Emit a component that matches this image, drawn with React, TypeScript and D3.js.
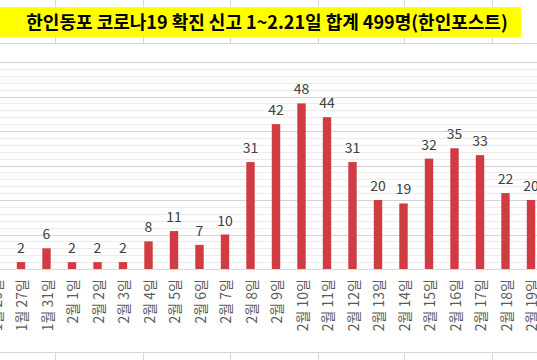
import React from "react";
import * as d3 from "d3";

const title = "한인동포 코로나19 확진 신고 1~2.21일 합계 499명(한인포스트)";
const categories = [
  "1월 20일", "1월 27일", "1월 31일", "2월 1일", "2월 2일", "2월 3일", "2월 4일",
  "2월 5일", "2월 6일", "2월 7일", "2월 8일", "2월 9일", "2월 10일", "2월 11일",
  "2월 12일", "2월 13일", "2월 14일", "2월 15일", "2월 16일", "2월 17일",
  "2월 18일", "2월 19일",
];
const values = [1, 2, 6, 2, 2, 2, 8, 11, 7, 10, 31, 42, 48, 44, 31, 20, 19, 32, 35, 33, 22, 20];
const minorTicks = d3.range(2, 61, 2).filter((v) => v % 10 !== 0);
const majorTicks = [10, 20, 30, 40, 50, 60];
const sheetCols = [55, 143, 230, 318, 404, 492];

const W = 537;
const H = 360;
const STEP = 25.5;
const X0 = -17.25;

export default function App() {
  const x = d3
    .scaleBand<string>()
    .domain(categories)
    .range([X0, X0 + STEP * categories.length])
    .paddingInner(0.67)
    .paddingOuter(0.335);
  const y = d3.scaleLinear().domain([0, 60]).range([269, 62]);
  const font = "'Noto Sans CJK KR', 'Noto Sans', sans-serif";
  const barColor = "#d13c42";

  return (
    <svg
      width={W}
      height={H}
      style={{ position: "absolute", left: 0, top: 0, background: "#fff" }}
    >
      {/* spreadsheet grid outside the chart */}
      {sheetCols.map((cx) => (
        <g key={"c" + cx}>
          <line x1={cx + 0.5} x2={cx + 0.5} y1={0} y2={43} stroke="#d6d6d6" />
          <line x1={cx + 0.5} x2={cx + 0.5} y1={352} y2={H} stroke="#d6d6d6" />
        </g>
      ))}
      <line x1={0} x2={W} y1={43.5} y2={43.5} stroke="#d6d6d6" />
      <line x1={0} x2={W} y1={352.5} y2={352.5} stroke="#d6d6d6" />

      {/* title bar */}
      <rect x={0} y={7} width={521} height={30} fill="#ffff00" />
      <text
        x={267}
        y={28.5}
        textAnchor="middle"
        fontFamily={font}
        fontWeight="bold"
        fontSize={18}
        fill="#000"
      >
        {title}
      </text>

      {/* gridlines */}
      {minorTicks.map((v) => (
        <line
          key={"m" + v}
          x1={0}
          x2={W}
          y1={Math.round(y(v)) + 0.5}
          y2={Math.round(y(v)) + 0.5}
          stroke="#ececec"
        />
      ))}
      {majorTicks.map((v) => (
        <line
          key={"M" + v}
          x1={0}
          x2={W}
          y1={Math.round(y(v)) + 0.5}
          y2={Math.round(y(v)) + 0.5}
          stroke="#d4d4d4"
        />
      ))}
      <line x1={0} x2={W} y1={y(0) + 0.5} y2={y(0) + 0.5} stroke="#d9d9d9" />

      {/* bars */}
      {categories.map((c, i) => (
        <rect
          key={"b" + c}
          x={x(c)}
          y={y(values[i])}
          width={x.bandwidth()}
          height={y(0) - y(values[i])}
          fill={barColor}
        />
      ))}

      {/* value labels */}
      {categories.map((c, i) => (
        <text
          key={"v" + c}
          x={(x(c) as number) + x.bandwidth() / 2}
          y={y(values[i]) - 9}
          textAnchor="middle"
          fontFamily={font}
          fontSize={14}
          fill="#404040"
        >
          {values[i]}
        </text>
      ))}

      {/* category labels */}
      {categories.map((c) => {
        const cx = (x(c) as number) + x.bandwidth() / 2;
        return (
          <text
            key={"l" + c}
            transform={`translate(${cx},279) rotate(-90)`}
            textAnchor="end"
            dominantBaseline="central"
            fontFamily={font}
            fontSize={14}
            fill="#595959"
          >
            {c}
          </text>
        );
      })}
    </svg>
  );
}
